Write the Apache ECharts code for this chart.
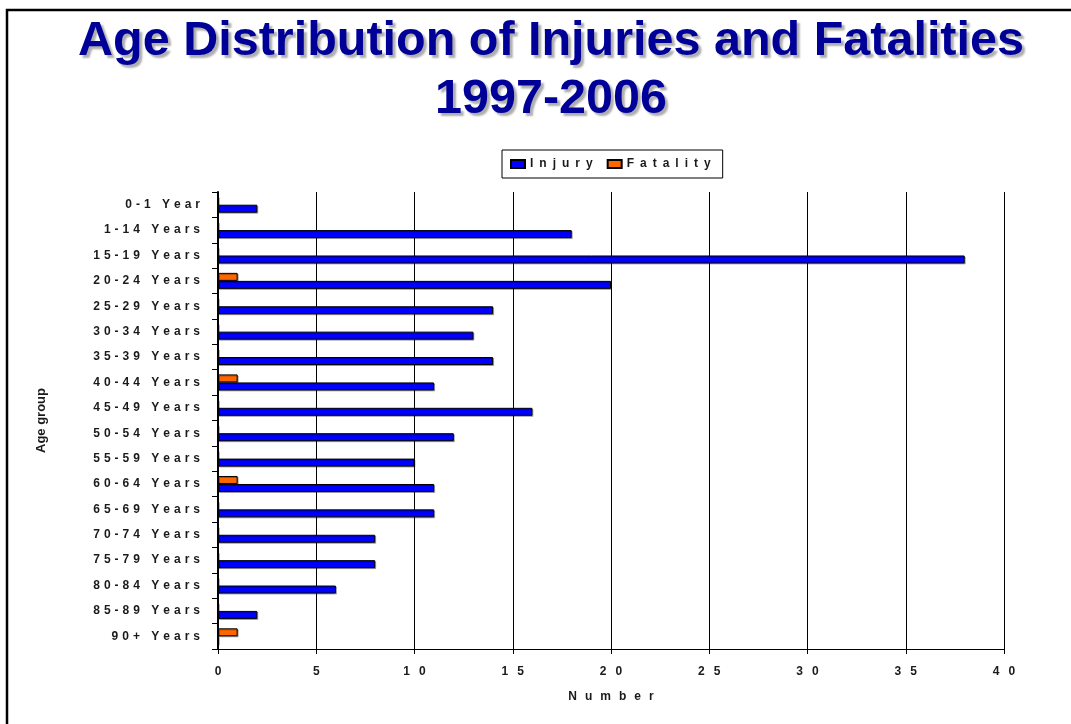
<!DOCTYPE html>
<html>
<head>
<meta charset="utf-8">
<script src="https://cdn.jsdelivr.net/npm/echarts@6/dist/echarts.min.js"></script>
<style>
html,body{margin:0;padding:0;background:#fff;}
#chart{width:1071px;height:724px;}
</style>
</head>
<body>
<div id="chart"></div>
<script>
const titleText = 'Age Distribution of Injuries and Fatalities\n1997-2006';
const categories = ['0-1 Year','1-14 Years','15-19 Years','20-24 Years','25-29 Years','30-34 Years','35-39 Years','40-44 Years','45-49 Years','50-54 Years','55-59 Years','60-64 Years','65-69 Years','70-74 Years','75-79 Years','80-84 Years','85-89 Years','90+ Years'];
const injury   = [2, 18, 38, 20, 14, 13, 14, 11, 16, 12, 10, 11, 11, 8, 8, 6, 2, 0];
const fatality = [0, 0, 0, 1, 0, 0, 0, 1, 0, 0, 0, 1, 0, 0, 0, 0, 0, 1];
const xTicks = {min: 0, max: 40, interval: 5};
const xName = 'Number';
const yName = 'Age group';

function spread(s, sep) { return String(s).split('').join(sep); }
const FONT = "'Liberation Sans', Arial, sans-serif";
const TXT = '#1a1a1a';

const chart = echarts.init(document.getElementById('chart'), null, {renderer: 'canvas'});
chart.setOption({
  animation: false,
  backgroundColor: '#fff',
  title: {
    text: titleText,
    left: 551,
    top: 13,
    padding: 0,
    textAlign: 'center',
    textStyle: {
      fontFamily: FONT, fontSize: 48.5, fontWeight: 'bold', color: '#000099',
      lineHeight: 58,
      textShadowColor: 'rgba(120,120,120,0.6)', textShadowOffsetX: 3, textShadowOffsetY: 3, textShadowBlur: 2
    }
  },
  legend: {
    data: ['Injury', 'Fatality'],
    left: 502, top: 150,
    padding: [8, 12, 8, 8],
    itemWidth: 14, itemHeight: 8, itemGap: 14,
    icon: 'rect',
    backgroundColor: '#fff',
    borderColor: '#000', borderWidth: 1,
    textStyle: {fontFamily: FONT, fontSize: 12, fontWeight: 'bold', color: TXT},
    formatter: n => spread(n, '\u2002')
  },
  grid: {left: 218, right: 67, top: 192, bottom: 75, containLabel: false, outerBoundsMode: 'none'},
  xAxis: {
    type: 'value', min: xTicks.min, max: xTicks.max, interval: xTicks.interval,
    name: spread(xName, '\u2002\u2006'), nameLocation: 'middle', nameGap: 42,
    nameTextStyle: {fontFamily: FONT, fontSize: 12, fontWeight: 'bold', color: TXT},
    axisLine: {show: true, lineStyle: {color: '#000', width: 1}},
    axisTick: {show: true, length: 5, lineStyle: {color: '#000', width: 1}},
    axisLabel: {margin: 17, fontFamily: FONT, fontSize: 12, fontWeight: 'bold', color: TXT,
      formatter: v => spread(v, '\u2002\u2005')},
    splitLine: {show: true, lineStyle: {color: '#000', width: 1}}
  },
  yAxis: {
    type: 'category', data: categories, inverse: true,
    name: yName, nameLocation: 'middle', nameGap: 170,
    nameTextStyle: {fontFamily: FONT, fontSize: 13, fontWeight: 'bold', color: TXT},
    axisLine: {show: true, lineStyle: {color: '#000', width: 2}},
    axisTick: {show: true, length: 6, lineStyle: {color: '#000', width: 1}},
    axisLabel: {margin: 18, fontFamily: FONT, fontSize: 12, fontWeight: 'bold', color: TXT,
      formatter: v => spread(v, '\u2004')},
    splitLine: {show: false}
  },
  series: [
    {
      name: 'Fatality', type: 'bar', data: fatality, barWidth: 8, barGap: '0%',
      itemStyle: {color: '#FF6600', borderColor: '#000', borderWidth: 1,
        shadowColor: 'rgba(0,0,0,0.3)', shadowOffsetX: 1, shadowOffsetY: 1}
    },
    {
      name: 'Injury', type: 'bar', data: injury, barWidth: 8, barGap: '0%',
      itemStyle: {color: '#0000FF', borderColor: '#000', borderWidth: 1,
        shadowColor: 'rgba(0,0,0,0.3)', shadowOffsetX: 1, shadowOffsetY: 1}
    }
  ],
  graphic: [
    {type: 'polyline', silent: true, z: 100,
     shape: {points: [[7, 724], [7, 10], [1071, 10]]},
     style: {stroke: '#000', lineWidth: 2.5, fill: null}}
  ]
});
</script>
</body>
</html>
